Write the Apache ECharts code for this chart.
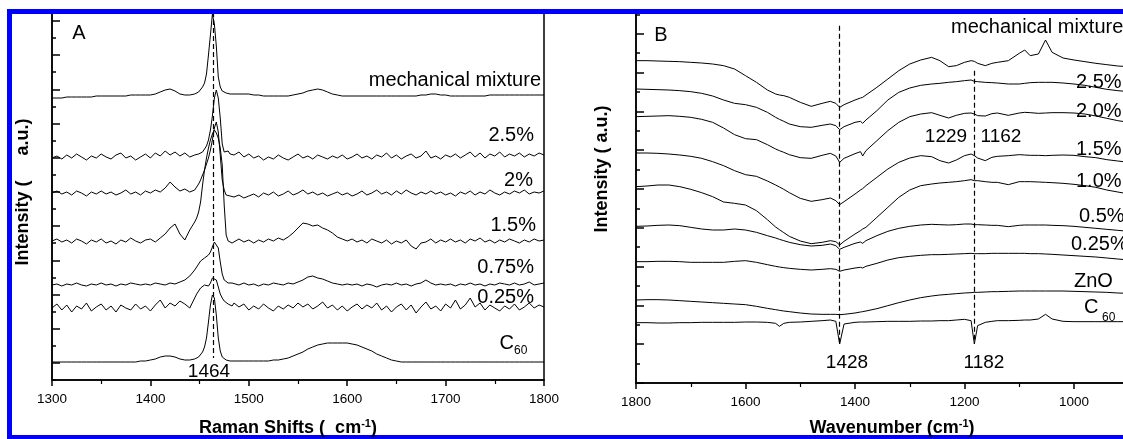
<!DOCTYPE html>
<html><head><meta charset="utf-8">
<script src="https://cdn.jsdelivr.net/npm/echarts@6.0.0/dist/echarts.min.js"></script>
<style>html,body{margin:0;padding:0;background:#fff}#c{width:1123px;height:439px}</style>
</head><body><div id="c"></div>
<script>
// ---------- Panel A : Raman ----------
const ramanTicks = [1300, 1400, 1500, 1600, 1700, 1800];
const ramanShift = [1300,1305,1310,1315,1320,1325,1330,1335,1340,1345,
1350,1355,1360,1365,1370,1375,1380,1385,1390,1395,
1400,1405,1410,1415,1420,1425,1430,1435,1440,1445,
1447,1449,1451,1453,1455,1457,1459,1461,1463,1465,
1467,1469,1471,1473,1475,1477,1479,1481,1483,
1485,1490,1495,1500,1505,1510,1515,1520,1525,1530,
1535,1540,1545,1550,1555,1560,1565,1570,1575,1580,
1585,1590,1595,1600,1605,1610,1615,1620,1625,1630,
1635,1640,1645,1650,1655,1660,1665,1670,1675,1680,
1685,1690,1695,1700,1705,1710,1715,1720,1725,1730,
1735,1740,1745,1750,1755,1760,1765,1770,1775,1780,
1785,1790,1795,1800];
const ramanMech = [282,282,282,283,283,283,283,283,283,284,
284,284,284,284,284,284,285,285,285,285,
285,286,288,290,291,289,286,285,285,286,
287,288,290,293,297,306,325,345,366,356,
334,303,293,289,288,287,287,286,286,
286,286,286,286,285,285,284,284,284,284,
284,284,285,286,287,289,290,291,290,288,
286,285,284,284,284,284,284,284,284,284,
284,284,284,284,284,284,284,284,285,285,
286,286,285,285,284,284,284,284,284,284,
284,284,285,285,285,285,285,285,285,285,
285,285,285,285];
const raman25 = [222,224,221,225,222,226,223,220,224,222,
226,223,221,225,227,222,224,220,223,226,
222,227,224,229,225,228,224,227,223,225,
224,226,225,228,230,234,240,250,264,282,
290,282,262,236,228,227,229,226,228,
225,228,223,226,222,224,220,223,221,225,
222,220,223,226,222,224,221,225,223,221,
224,222,225,221,223,226,222,224,221,225,
223,227,222,225,221,224,226,222,224,229,
222,224,221,225,223,226,222,225,228,223,
227,222,226,224,228,223,226,224,227,223,
226,224,227,225];
const raman20 = [187,189,186,188,185,189,187,184,188,186,
189,186,188,185,187,190,186,188,185,189,
187,190,188,192,198,193,189,191,188,190,
192,196,200,205,210,216,222,230,240,252,
258,248,225,200,190,185,183,184,182,
183,185,182,184,186,183,187,185,188,184,
186,189,185,187,190,186,188,185,187,184,
186,188,185,187,184,186,189,185,187,190,
186,188,185,189,186,190,187,185,188,186,
189,186,188,185,187,184,188,186,189,185,
188,186,190,187,185,188,186,189,187,190,
186,188,187,189];
const raman15 = [139,141,138,140,137,141,139,136,140,138,
141,137,139,136,140,138,142,139,137,140,
141,138,142,146,152,156,146,140,150,158,
162,168,178,195,210,222,232,240,246,250,
247,242,232,215,175,145,139,140,137,
139,141,138,140,137,140,138,141,139,142,
140,143,147,152,157,156,154,155,152,150,
147,143,141,139,141,138,140,137,141,139,
137,140,136,139,137,140,134,131,137,138,
141,137,140,138,141,138,140,137,141,139,
142,138,140,137,140,138,141,139,137,140,
138,141,139,140];
const raman075 = [95,96,94,96,95,97,95,94,96,95,
97,95,96,94,96,95,97,96,95,96,
95,97,96,95,97,96,98,100,104,110,
113,116,119,121,122,123,125,128,133,138,
140,132,118,106,100,98,97,96,97,
96,95,97,95,96,94,96,95,97,96,
95,97,96,98,100,103,104,102,101,99,
97,96,95,96,95,96,94,96,95,93,
95,96,95,97,95,96,94,96,97,100,
97,95,96,95,96,94,96,95,97,95,
96,94,96,95,97,96,95,97,95,96,
98,95,96,97];
const raman025 = [72,76,70,75,68,74,71,77,69,73,
76,70,74,68,75,72,70,76,71,74,
69,75,80,72,77,74,79,76,72,82,
86,89,92,90,95,97,94,97,102,104,
100,93,86,82,79,80,76,78,74,
77,73,76,70,74,71,76,72,69,74,
71,75,72,77,73,76,71,74,78,72,
75,70,74,69,73,76,71,75,72,77,
70,74,68,73,76,70,75,67,73,78,
71,74,69,76,72,80,71,75,82,73,
77,70,75,72,69,74,71,76,70,73,
77,72,75,73];
const ramanC60 = [18,18,18,18,18,18,18,18,18,18,
18,18,18,18,18,18,18,18,19,19,
20,21,23,24,24,23,21,20,20,21,
22,23,25,28,33,42,58,75,85,82,
65,42,29,23,21,20,19,19,19,
19,19,19,19,19,19,19,19,20,20,
21,22,24,26,28,31,33,35,36,37,
37,37,37,37,36,35,33,31,29,26,
24,22,20,19,18,18,18,18,18,18,
18,18,18,18,18,18,18,18,18,18,
18,18,18,18,18,18,18,18,18,18,
18,18,18,18];
const ramanNames = ['mechanical mixture', '2.5%', '2%', '1.5%', '0.75%', '0.25%', 'C60'];

// ---------- Panel B : IR ----------
const wnTicks = [1800, 1600, 1400, 1200, 1000, 800];
const wavenumber = [1800,1780,1760,1740,1720,1700,1680,1660,1640,1620,
1600,1580,1560,1545,1538,1530,1520,1500,1480,1460,
1445,1435,1428,1420,1400,1390,1386,1380,1360,1340,
1320,1300,1280,1260,1245,1229,1215,1200,1188,1182,
1176,1162,1150,1140,1120,1100,1090,1080,1065,1052,
1040,1020,1000,980,960,940,920,900];
const irMech = [967,967,966,965,964,962,960,957,952,942,
922,902,879,867,864,862,857,842,830,839,
845,839,827,835,849,855,857,864,887,912,
937,957,969,977,967,949,952,962,967,965,
959,952,959,962,967,989,999,982,987,1029,
992,975,969,964,959,955,951,949];
const ir25 = [882,881,880,879,877,874,869,861,849,839,
835,827,812,797,791,785,777,769,767,773,
777,772,760,769,782,785,779,789,817,849,
872,885,893,897,899,902,904,907,909,905,
904,902,901,900,897,897,899,901,902,902,
902,900,897,893,887,881,877,874];
const ir20 = [799,800,801,802,800,797,791,782,765,745,
733,730,715,702,697,692,685,676,674,683,
689,681,662,674,688,694,681,697,727,757,
782,799,807,811,803,795,803,809,810,807,
802,801,808,810,803,810,812,811,809,810,
811,811,810,807,801,794,787,782];
const ir15 = [690,690,689,687,684,680,674,664,652,637,
625,620,606,594,588,581,571,554,545,550,
555,547,535,544,567,579,583,592,617,642,
662,675,682,679,667,660,669,682,687,682,
675,667,677,680,682,685,684,683,683,682,
683,684,683,679,676,670,666,662];
const ir10 = [589,591,594,594,589,581,571,559,543,539,
534,517,490,468,460,451,440,426,418,422,
427,424,414,425,447,457,462,467,497,527,
557,579,592,597,600,602,604,607,610,607,
607,604,602,602,595,604,604,604,603,602,
601,599,596,592,587,579,573,567];
const ir05 = [470,471,473,474,472,467,462,459,459,462,
459,452,442,435,431,427,422,415,411,413,
417,412,401,407,419,423,419,427,442,455,
464,470,474,476,475,474,475,477,477,475,
475,474,473,473,469,473,474,474,474,474,
473,472,470,467,464,461,458,455];
const ir025 = [364,364,365,365,364,362,362,362,362,365,
367,362,355,350,348,346,344,341,339,341,
343,341,335,339,345,347,345,350,359,369,
376,380,383,385,385,386,387,388,389,388,
388,388,389,389,389,389,389,388,388,387,
386,384,382,380,378,375,372,369];
const irZnO = [249,250,250,249,247,245,243,241,239,237,
235,230,224,220,218,216,214,210,207,206,
206,206,205,206,210,213,214,216,223,232,
241,249,256,261,264,266,268,270,271,272,
272,273,274,274,275,276,276,276,276,276,
276,276,275,274,273,272,270,269];
const irC60 = [181,181,180,180,181,181,182,182,182,182,
183,183,182,179,170,179,182,183,185,187,
189,185,117,177,182,183,183,183,184,185,
185,185,186,186,187,187,189,191,187,117,
172,182,185,187,187,188,189,189,192,206,
192,185,184,184,184,184,184,184];
const irNames = ['mechanical mixture', '2.5%', '2.0%', '1.5%', '1.0%', '0.5%', '0.25%', 'ZnO', 'C60'];

// ---------- build ----------
const F = '"Liberation Sans", Arial, Helvetica, sans-serif';
const K = '#000';
const chart = echarts.init(document.getElementById('c'), null, {renderer: 'canvas'});

function lineSeries(name, xs, ys, gi) {
  return {
    name: name, type: 'line', xAxisIndex: gi, yAxisIndex: gi,
    data: xs.map((x, i) => [x, ys[i]]),
    showSymbol: false, symbol: 'none', silent: true,
    lineStyle: {color: K, width: 1}, itemStyle: {color: K}, z: 3
  };
}
const dashStyle = {color: K, type: [5, 3], width: 1.2};

const seriesA = [ramanMech, raman25, raman20, raman15, raman075, raman025, ramanC60]
  .map((ys, i) => lineSeries(ramanNames[i], ramanShift, ys, 0));
seriesA[6].markLine = {silent: true, symbol: ['none', 'none'], label: {show: false},
  lineStyle: dashStyle, data: [[{coord: [1464, 376]}, {coord: [1464, 22]}]]};
const seriesB = [irMech, ir25, ir20, ir15, ir10, ir05, ir025, irZnO, irC60]
  .map((ys, i) => lineSeries(irNames[i], wavenumber, ys, 1));
seriesB[8].markLine = {silent: true, symbol: ['none', 'none'], label: {show: false},
  lineStyle: dashStyle, data: [
    [{coord: [1428, 1072]}, {coord: [1428, 120]}],
    [{coord: [1182, 937]}, {coord: [1182, 120]}]
  ]};

function xAx(gi, ticks, inverse) {
  const lo = Math.min(...ticks), hi = Math.max(...ticks);
  return {
    gridIndex: gi, type: 'value', min: lo, max: hi, interval: Math.abs(ticks[1] - ticks[0]), inverse: inverse,
    axisLine: {show: true, onZero: false, lineStyle: {color: K, width: 1.5}},
    axisTick: {show: true, inside: false, length: 6, lineStyle: {color: K, width: 1.5}},
    minorTick: {show: true, splitNumber: 2, length: 4, lineStyle: {color: K, width: 1.2}},
    axisLabel: {show: true, color: K, fontSize: 13.5, fontFamily: F, margin: 12, showMinLabel: true, showMaxLabel: true,
      formatter: v => String(v)},
    splitLine: {show: false}, minorSplitLine: {show: false}
  };
}
function yAx(gi, max, interval, majLen, minLen) {
  return {
    gridIndex: gi, type: 'value', min: 0, max: max, interval: interval,
    axisLine: {show: true, onZero: false, lineStyle: {color: K, width: 1.5}},
    axisTick: {show: true, inside: true, length: majLen, lineStyle: {color: K, width: 1.5}},
    minorTick: {show: true, splitNumber: 2, length: minLen, lineStyle: {color: K, width: 1.5}},
    axisLabel: {show: false}, splitLine: {show: false}, minorSplitLine: {show: false}
  };
}

function txt(x, y, text, size, align, extra) {
  const o = {type: 'text', x: x, y: y, z: 120, silent: true,
    style: {text: text, font: (extra && extra.bold ? 'bold ' : '') + size + 'px ' + F, fill: K,
      align: align, verticalAlign: 'middle', textAlign: align, textVerticalAlign: 'middle'}};
  if (extra && extra.rotation) o.rotation = extra.rotation;
  return o;
}
function richTitle(x, y, main1, sup, main2, rot) {
  const o = {type: 'text', x: x, y: y, z: 120, silent: true,
    style: {text: '{b|' + main1 + '}{s|' + sup + '}{b|' + main2 + '}',
      align: 'center', verticalAlign: 'middle', textAlign: 'center', textVerticalAlign: 'middle',
      rich: {
        b: {fontSize: 18, fontWeight: 'bold', fontFamily: F, fill: K, lineHeight: 20},
        s: {fontSize: 11, fontWeight: 'bold', fontFamily: F, fill: K, lineHeight: 11, verticalAlign: 'top'}
      }}};
  if (rot) o.rotation = rot;
  return o;
}

const graphics = [
  {type: 'rect', z: 110, silent: true, shape: {x: 0, y: 0, width: 1123, height: 9}, style: {fill: '#fff'}},
  {type: 'rect', z: 111, silent: true, shape: {x: 7, y: 9, width: 1116, height: 5}, style: {fill: '#0000ff'}},
  {type: 'rect', z: 111, silent: true, shape: {x: 7, y: 9, width: 5, height: 430}, style: {fill: '#0000ff'}},
  {type: 'rect', z: 111, silent: true, shape: {x: 7, y: 435, width: 1116, height: 4}, style: {fill: '#0000ff'}},
  // panel A texts
  txt(79, 33, 'A', 20, 'center'),
  txt(541, 80, 'mechanical mixture', 20, 'right'),
  txt(534, 135, '2.5%', 20, 'right'),
  txt(533, 180, '2%', 20, 'right'),
  txt(536, 225, '1.5%', 20, 'right'),
  txt(534, 267, '0.75%', 20, 'right'),
  txt(534, 297, '0.25%', 20, 'right'),
  txt(514, 343, 'C', 20, 'right'),
  txt(514, 351, '60', 12, 'left'),
  txt(209, 372, '1464', 19, 'center'),
  richTitle(288, 428, 'Raman Shifts (  cm', '-1', ')'),
  txt(23, 192, 'Intensity (     a.u.)', 18, 'center', {bold: true, rotation: Math.PI / 2}),
  // panel B texts
  txt(661, 35, 'B', 20, 'center'),
  txt(951, 27, 'mechanical mixture', 20, 'left'),
  txt(1076, 82, '2.5%', 20, 'left'),
  txt(1076, 111, '2.0%', 20, 'left'),
  txt(946, 137, '1229', 19, 'center'),
  txt(1001, 137, '1162', 19, 'center'),
  txt(1076, 149, '1.5%', 20, 'left'),
  txt(1076, 181, '1.0%', 20, 'left'),
  txt(1079, 216, '0.5%', 20, 'left'),
  txt(1071, 244, '0.25%', 20, 'left'),
  txt(1074, 281, 'ZnO', 20, 'left'),
  txt(1084, 307, 'C', 20, 'left'),
  txt(1102, 318, '60', 12, 'left'),
  txt(847, 363, '1428', 19, 'center'),
  txt(984, 363, '1182', 19, 'center'),
  richTitle(892, 428, 'Wavenumber (cm', '-1', ')'),
  txt(602, 169, 'Intensity ( a.u.)', 18, 'center', {bold: true, rotation: Math.PI / 2})
];

const option = {
  animation: false,
  backgroundColor: '#fff',
  grid: [
    {left: 52, top: 3.8, width: 492, height: 376.2, show: true, borderColor: K, borderWidth: 1.5,
      backgroundColor: 'transparent', containLabel: false, outerBoundsMode: 'none'},
    {left: 636, top: -5, width: 547.5, height: 388, show: true, borderColor: K, borderWidth: 1.5,
      backgroundColor: 'transparent', containLabel: false, outerBoundsMode: 'none'}
  ],
  xAxis: [xAx(0, ramanTicks, false), xAx(1, wnTicks, true)],
  yAxis: [yAx(0, 376.2, 34.2, 4, 8), yAx(1, 1164, 116.4, 8, 4)],
  series: seriesA.concat(seriesB),
  graphic: graphics
};
chart.setOption(option);
</script></body></html>
